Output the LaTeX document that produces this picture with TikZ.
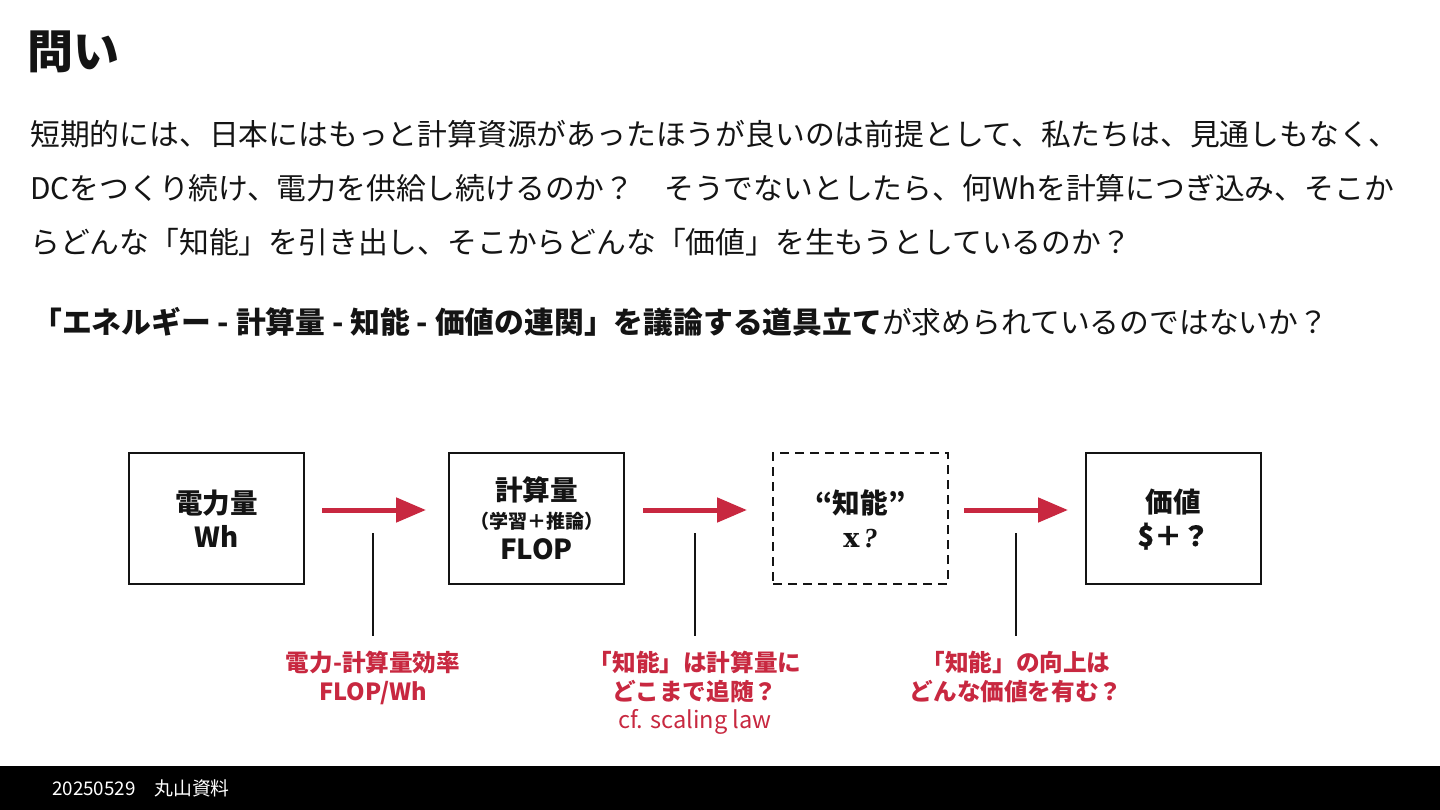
\documentclass[tikz,border=0pt]{standalone}
\usepackage{fontspec}
\setmainfont{Noto Sans CJK JP}
\newfontfamily\xserif{DejaVu Serif}
\newfontfamily\qserif{Liberation Serif}
\newfontfamily\medfont[FakeBold=0.3]{Noto Sans CJK JP}
\usetikzlibrary{arrows.meta}
\definecolor{crim}{RGB}{200,40,64}
\definecolor{ink}{RGB}{20,20,20}
\tikzset{
  box/.style={draw=ink,line width=2.6pt,minimum width=175pt,minimum height=131pt,inner sep=0pt},
  dbox/.style={box,dash pattern=on 9pt off 6pt},
  flow/.style={draw=crim,line width=5pt,-{Triangle[length=30pt,width=24pt]}},
  tick/.style={draw=ink,line width=1.4pt},
  lab/.style={text=crim,font=\fontsize{23.6}{28.5}\selectfont\bfseries,align=center,anchor=north},
  body/.style={anchor=west,text=ink,font=\fontsize{29.8}{32}\selectfont,inner sep=0pt},
  btext/.style={text=ink,font=\fontsize{27.6}{34}\selectfont\bfseries,align=center},
}
\begin{document}
\begin{tikzpicture}[x=1pt,y=-1pt]
\useasboundingbox (0,0) rectangle (1440,810);
\fill[white] (0,0) rectangle (1440,810);
% title
\node[anchor=west,inner sep=0pt,text=ink,font=\fontsize{46}{50}\selectfont\bfseries] (title) at (27,52) {問い};
% body
\node[body] (l1) at (30,134) {短期的には、日本にはもっと計算資源があったほうが良いのは前提として、私たちは、見通しもなく、};
\node[body] (l2) at (30,188) {DCをつくり続け、電力を供給し続けるのか？　そうでないとしたら、何Whを計算につぎ込み、そこか};
\node[body] (l3) at (30,242) {らどんな「知能」を引き出し、そこからどんな「価値」を生もうとしているのか？};
\node[body] (l4) at (32,322) {\bfseries「エネルギー - 計算量 - 知能 - 価値の連関」を議論する道具立て\mdseries が求められているのではないか？};
% boxes
\node[box] (b1) at (216.5,518.5) {};
\node[box] (b2) at (536.5,518.5) {};
\node[dbox] (b3) at (860.5,518.5) {};
\node[box] (b4) at (1173.5,518.5) {};
\node[btext] (t1) at (216.5,519) {電力量\\Wh};
\node[btext] (t2a) at (536.5,490) {計算量};
\node[btext,font=\fontsize{19}{21}\selectfont\bfseries] (t2b) at (536.5,521) {（学習＋推論）};
\node[btext] (t2c) at (536.5,549) {FLOP};
\node[btext] (t3) at (860.5,519) {“知能”\\{\xserif\bfseries\fontsize{27}{34}\selectfont x}\,{\qserif\bfseries\itshape ?}};
\node[btext] (t4) at (1173.5,519) {価値\\{\medfont \$＋？}};
% arrows
\coordinate (a1s) at (322,510); \coordinate (a1e) at (426,510);
\coordinate (a2s) at (643,510); \coordinate (a2e) at (747,510);
\coordinate (a3s) at (964,510); \coordinate (a3e) at (1068,510);
\draw[flow] (a1s) -- (a1e);
\draw[flow] (a2s) -- (a2e);
\draw[flow] (a3s) -- (a3e);
% ticks
\coordinate (k1t) at (373,533); \coordinate (k1b) at (373,636);
\coordinate (k2t) at (695,533); \coordinate (k2b) at (695,636);
\coordinate (k3t) at (1016,533); \coordinate (k3b) at (1016,636);
\draw[tick] (k1t) -- (k1b);
\draw[tick] (k2t) -- (k2b);
\draw[tick] (k3t) -- (k3b);
% labels
\node[lab] (n1) at (373,648) {電力-計算量効率\\FLOP/Wh};
\node[lab] (n2) at (695,648) {「知能」は計算量に\\どこまで追随？\\{\mdseries cf. scaling law}};
\node[lab] (n3) at (1016,648) {「知能」の向上は\\どんな価値を有む？};
% footer
\fill[black] (0,766) rectangle (1440,810);
\node[anchor=west,inner sep=0pt,text=white,font=\fontsize{18.8}{20}\selectfont] (foot) at (52,788) {20250529　丸山資料};
\end{tikzpicture}
\end{document}
